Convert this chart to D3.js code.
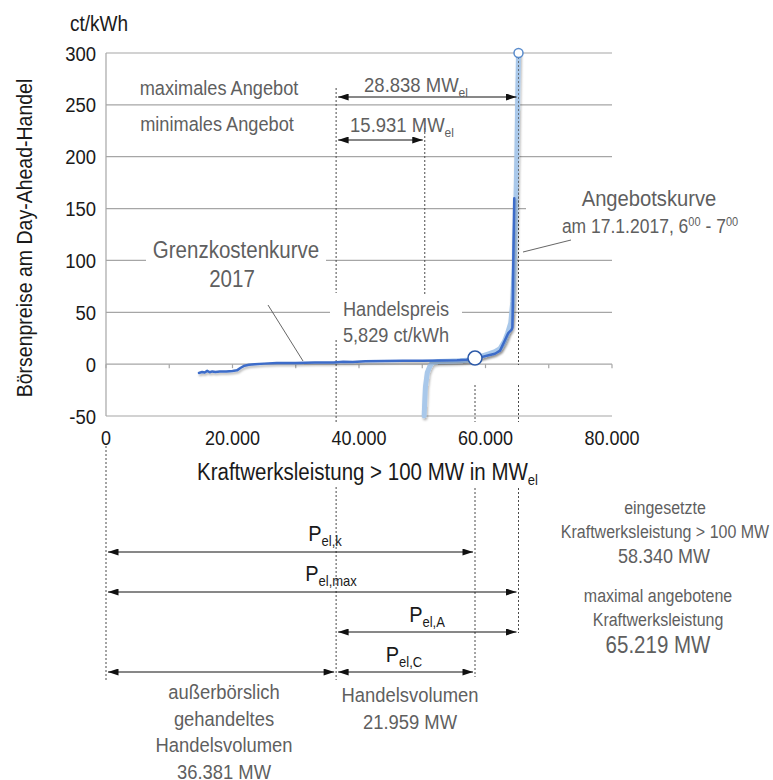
<!DOCTYPE html>
<html>
<head>
<meta charset="utf-8">
<script src="https://cdn.jsdelivr.net/npm/d3@7/dist/d3.min.js"></script>
<style>
  html, body { margin: 0; padding: 0; background: #fff; }
  svg { display: block; font-family: "Liberation Sans", Arial, sans-serif; }
</style>
</head>
<body>
<svg id="chart" width="773" height="780"></svg>
<script>
// ---------- data ----------
const xTicks = [0, 20000, 40000, 60000, 80000];
const xMinorTicks = [0, 10000, 20000, 30000, 40000, 50000, 60000, 70000, 80000];
const yTicks = [-50, 0, 50, 100, 150, 200, 250, 300];

// Grenzkostenkurve 2017 (dark blue)
const gkX = [14700, 15200, 15600, 16000, 16400, 16800, 17300, 18000, 19000, 20000, 20700, 21300, 21900, 22600, 23500, 25000, 27000, 30000, 33000, 36000, 37500, 39000, 41000, 44000, 47000, 50000, 53000, 55500, 57000, 58340, 59500, 60500, 61500, 62300, 63000, 63600, 64100, 64250, 64300, 64400, 64550];
const gkY = [-8.5, -7.5, -8, -6.5, -7.8, -7, -7.5, -7, -7, -6.5, -6, -3.5, -1.5, -0.5, 0, 0.5, 1, 1.2, 1.5, 1.6, 2.4, 2, 2.8, 3, 3.2, 3.3, 3.6, 3.8, 4.3, 5.8, 7, 8.5, 10, 13, 22, 30, 33, 35, 50, 100, 160];

// Angebotskurve 17.1.2017 (light blue)
const abX = [50300, 50400, 50500, 50800, 51200, 51600, 52500, 54000, 56000, 57500, 58340, 59500, 60500, 61500, 62300, 63000, 63500, 64000, 64300, 64550, 64750, 64950, 65100, 65219];
const abY = [-50, -35, -22, -8, -2, 1.5, 2.5, 2.8, 3.2, 4, 5.829, 8, 10, 12, 15, 22, 30, 40, 60, 95, 140, 200, 260, 300];

// key quantities (MW, ct/kWh)
const otcVolume = 36381;      // außerbörslich gehandeltes Handelsvolumen
const usedCapacity = 58340;   // eingesetzte Kraftwerksleistung
const maxCapacity = 65219;    // maximal angebotene Kraftwerksleistung
const minOfferEnd = 50400;    // Ende minimales Angebot
const minOfferSpan = 15931;
const tradePrice = 5.829;     // Handelspreis
const topPrice = 300;

// ---------- setup ----------
const svg = d3.select("#chart");
const de = d3.formatLocale({decimal: ",", thousands: ".", grouping: [3], currency: ["", " €"]});
const fmt = de.format(",");

const x = d3.scaleLinear().domain([0, 80000]).range([106, 612]);
const y = d3.scaleLinear().domain([-50, 300]).range([416, 53]);

const GRID = "#a6a6a6";
const TXT = "#1a1a1a";
const GRAYTXT = "#5f5f5f";
const DOT = "#4a4a4a";
const DARK = "#3c6cc9";
const LIGHT = "#a9c8ea";
const SX = 0.89; // horizontal condensing of text, as in the reference

// text helper: size is the "width-equivalent" font size
function txt(px, py, size, anchor, color, rot) {
  return svg.append("text")
    .attr("transform", `translate(${px},${py})${rot ? ` rotate(${rot})` : ""} scale(${SX},1)`)
    .attr("text-anchor", anchor).attr("font-size", size / SX).attr("fill", color);
}

const defs = svg.append("defs");
defs.append("marker").attr("id", "arrow")
  .attr("viewBox", "0 0 12 8").attr("refX", 12).attr("refY", 4)
  .attr("markerWidth", 12).attr("markerHeight", 7)
  .attr("markerUnits", "userSpaceOnUse")
  .attr("orient", "auto-start-reverse")
  .append("path").attr("d", "M0,0 L12,4 L0,8 Z").attr("fill", "#111");
const f = defs.append("filter").attr("id", "shadow").attr("x", "-10%").attr("y", "-10%").attr("width", "130%").attr("height", "130%");
f.append("feDropShadow").attr("dx", 1).attr("dy", 2).attr("stdDeviation", 1.2)
  .attr("flood-color", "#000").attr("flood-opacity", 0.28);

// ---------- grid ----------
svg.append("g").selectAll("line").data(yTicks).join("line")
  .attr("x1", x(0)).attr("x2", x(80000))
  .attr("y1", d => y(d)).attr("y2", d => y(d))
  .attr("stroke", GRID).attr("stroke-width", 1.2);
svg.append("line").attr("x1", x(0)).attr("x2", x(0)).attr("y1", y(300)).attr("y2", y(-50))
  .attr("stroke", GRID).attr("stroke-width", 1.2);
svg.append("g").selectAll("line").data(xMinorTicks).join("line")
  .attr("x1", d => x(d)).attr("x2", d => x(d))
  .attr("y1", y(0)).attr("y2", y(0) + 4)
  .attr("stroke", GRID).attr("stroke-width", 1.2);

// axis labels
yTicks.forEach(d => txt(96, y(d) + 7.5, 18.5, "end", TXT).text(d));
xTicks.forEach(d => txt(x(d), 445, 18, "middle", TXT).text(fmt(d)));

txt(70, 31, 19, "start", TXT).text("ct/kWh");
txt(32, 238, 19.5, "middle", TXT, -90).text("Börsenpreise am Day-Ahead-Handel");
const xt = txt(197, 480, 20.5, "start", TXT);
xt.append("tspan").text("Kraftwerksleistung > 100 MW in MW");
xt.append("tspan").attr("font-size", 13 / SX).attr("dy", 5).text("el");

// ---------- dotted guide lines ----------
const guides = [
  {v: otcVolume, segs: [[88, 293], [340, 422], [487, 680]]},
  {v: minOfferEnd, segs: [[128, 294]]},
  {v: usedCapacity, segs: [[385, 422], [488, 677]]},
  {v: maxCapacity, segs: [[52, 365], [385, 422], [488, 633]]},
  {v: 0, segs: [[446, 682]]}
];
guides.forEach(g => {
  g.segs.forEach(s => {
    svg.append("line").attr("x1", x(g.v)).attr("x2", x(g.v)).attr("y1", s[0]).attr("y2", s[1])
      .attr("stroke", DOT).attr("stroke-width", 1).attr("stroke-dasharray", "2,2");
  });
});

// ---------- text masks ----------
svg.append("rect").attr("x", 146).attr("y", 236).attr("width", 180).attr("height", 58).attr("fill", "#fff");
svg.append("rect").attr("x", 330).attr("y", 295).attr("width", 132).attr("height", 44).attr("fill", "#fff");
svg.append("rect").attr("x", 526).attr("y", 188).attr("width", 100).attr("height", 52).attr("fill", "#fff");

// ---------- curves ----------
const line = d3.line().x(d => x(d[0])).y(d => y(d[1]));
const abData = abX.map((v, i) => [v, abY[i]]);
const gkData = gkX.map((v, i) => [v, gkY[i]]);
svg.append("path").datum(abData).attr("d", line).attr("fill", "none")
  .attr("stroke", LIGHT).attr("stroke-width", 5).attr("stroke-linejoin", "round").attr("stroke-linecap", "round")
  .attr("filter", "url(#shadow)");
svg.append("path").datum(gkData).attr("d", line).attr("fill", "none")
  .attr("stroke", DARK).attr("stroke-width", 2.5).attr("stroke-linejoin", "round").attr("stroke-linecap", "round")
  .attr("filter", "url(#shadow)");
// dotted line over top part of offer curve
svg.append("line").attr("x1", x(maxCapacity)).attr("x2", x(maxCapacity)).attr("y1", y(topPrice)).attr("y2", y(150))
  .attr("stroke", DOT).attr("stroke-width", 1).attr("stroke-dasharray", "2,2").attr("opacity", 0.7);

svg.append("circle").attr("cx", x(maxCapacity)).attr("cy", y(topPrice)).attr("r", 4.5)
  .attr("fill", "#fff").attr("stroke", "#5a8ccc").attr("stroke-width", 1.5);
svg.append("circle").attr("cx", x(usedCapacity)).attr("cy", y(tradePrice)).attr("r", 7)
  .attr("fill", "#fff").attr("stroke", "#2d5aa8").attr("stroke-width", 1.5);

// ---------- top annotations ----------
txt(219, 95, 18.2, "middle", GRAYTXT).text("maximales Angebot");
txt(217, 131, 18.2, "middle", GRAYTXT).text("minimales Angebot");

function arrow(v1, v2, yy) {
  svg.append("line").attr("x1", x(v1) + 2).attr("x2", x(v2) - 2).attr("y1", yy).attr("y2", yy)
    .attr("stroke", "#111").attr("stroke-width", 1)
    .attr("marker-start", "url(#arrow)").attr("marker-end", "url(#arrow)");
}
function subLabel(cx, by, main, sub, size, subSize, color) {
  const t = txt(cx, by, size, "middle", color);
  t.append("tspan").text(main);
  t.append("tspan").attr("font-size", subSize / SX).attr("dy", 5).text(sub);
}
arrow(otcVolume, maxCapacity, 97);
subLabel(416, 92, fmt(maxCapacity - otcVolume) + " MW", "el", 18.5, 12, GRAYTXT);
arrow(otcVolume, minOfferEnd, 140);
subLabel(402, 132, fmt(minOfferSpan) + " MW", "el", 18.5, 12, GRAYTXT);

txt(236, 258, 20.5, "middle", GRAYTXT).text("Grenzkostenkurve");
txt(232, 287, 20.5, "middle", GRAYTXT).text("2017");
svg.append("line").attr("x1", 268).attr("y1", 305).attr("x2", 303).attr("y2", 361)
  .attr("stroke", "#555").attr("stroke-width", 0.9);

txt(396, 316, 18.2, "middle", GRAYTXT).text("Handelspreis");
txt(396, 342, 18.2, "middle", GRAYTXT).text("5,829 ct/kWh");

txt(649, 206, 20.2, "middle", GRAYTXT).text("Angebotskurve");
const ak = txt(650, 233, 17.5, "middle", GRAYTXT);
ak.append("tspan").text("am 17.1.2017, 6");
ak.append("tspan").attr("font-size", 11 / SX).attr("dy", -7).text("00");
ak.append("tspan").attr("dy", 7).text(" - 7");
ak.append("tspan").attr("font-size", 11 / SX).attr("dy", -7).text("00");
svg.append("line").attr("x1", 571).attr("y1", 240).attr("x2", 523).attr("y2", 252)
  .attr("stroke", "#555").attr("stroke-width", 0.9);

// ---------- bottom arrows ----------
arrow(0, usedCapacity, 552);
subLabel(325, 541, "P", "el,k", 20, 13, TXT);
arrow(0, maxCapacity, 592);
subLabel(331, 581, "P", "el,max", 20, 13, TXT);
arrow(otcVolume, maxCapacity, 632);
subLabel(427, 622, "P", "el,A", 20, 13, TXT);
arrow(0, otcVolume, 672);
arrow(otcVolume, usedCapacity, 672);
subLabel(404, 662, "P", "el,C", 20, 13, TXT);

["außerbörslich", "gehandeltes", "Handelsvolumen", fmt(otcVolume) + " MW"].forEach((s, i) => {
  txt(224, 699 + i * 26.7, 18.4, "middle", GRAYTXT).text(s);
});
["Handelsvolumen", fmt(usedCapacity - otcVolume) + " MW"].forEach((s, i) => {
  txt(410, 702 + i * 26.7, 18.4, "middle", GRAYTXT).text(s);
});

// ---------- right info ----------
txt(665, 514, 16, "middle", GRAYTXT).text("eingesetzte");
txt(665, 538, 16, "middle", GRAYTXT).text("Kraftwerksleistung > 100 MW");
txt(664, 563, 18, "middle", GRAYTXT).text(fmt(usedCapacity) + " MW");
txt(658, 602, 16, "middle", GRAYTXT).text("maximal angebotene");
txt(658, 626, 16, "middle", GRAYTXT).text("Kraftwerksleistung");
txt(658, 653, 20.5, "middle", GRAYTXT).text(fmt(maxCapacity) + " MW");
</script>
</body>
</html>
